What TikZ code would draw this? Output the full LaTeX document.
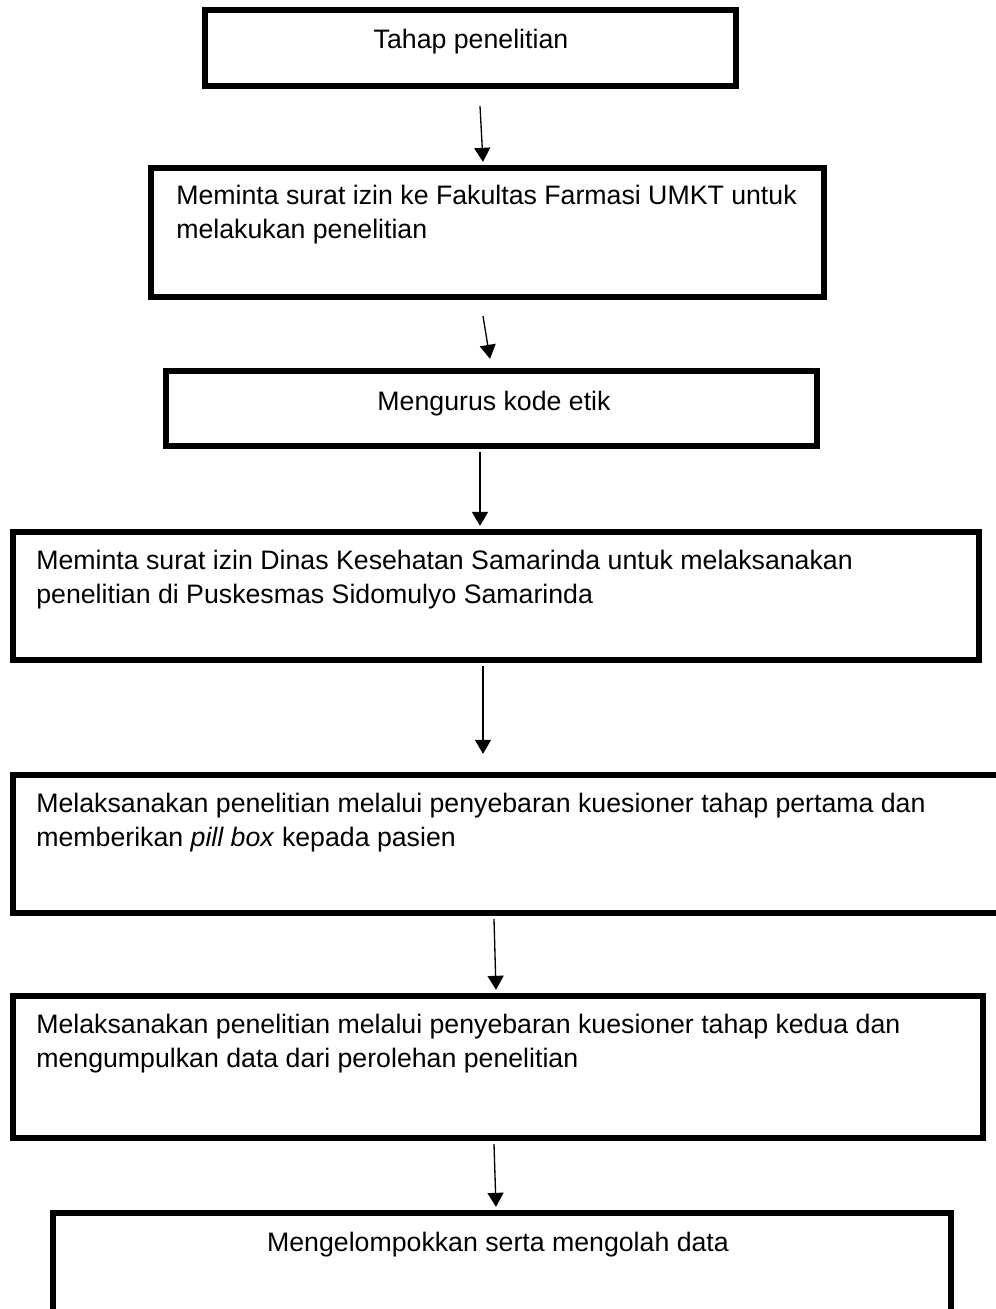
\documentclass[tikz,border=0pt]{standalone}
\usepackage{fontspec}
\setmainfont{Liberation Sans}
\usetikzlibrary{arrows.meta,calc}

\begin{document}
\begin{tikzpicture}[
    x=0.02cm, y=-0.02cm,
    stage/.style 2 args={rectangle, draw=black, line width=3.6pt, inner sep=0pt, minimum width=#1*0.02cm, minimum height=#2*0.02cm},
    flow/.style={-{Triangle[length=0.28cm, width=0.32cm]}, line width=0.75pt, draw=black},
    txt/.style={font=\fontsize{15.2}{18.8}\selectfont, inner sep=0pt, align=left}
]
\clip (0,0) rectangle (996,1309);
\fill[white] (0,0) rectangle (996,1309);

\node[stage={531}{76}] (S1) at (470.5,48) {};
\node[stage={673}{129}] (S2) at (487.5,232.5) {};
\node[stage={651}{75}] (S3) at (491.5,408.5) {};
\node[stage={966}{128}] (S4) at (496,596) {};
\node[stage={992}{138}] (S5) at (509,844) {};
\node[stage={970}{142}] (S6) at (498,1067) {};
\node[stage={898}{130}] (S7) at (502,1278) {};

% two-line labels sit on the baseline of their last line
\node[txt, anchor=base] (L1) at (471,48) {Tahap penelitian};
\node[txt, anchor=base west] (L2) at (176,238) {Meminta surat izin ke Fakultas Farmasi UMKT untuk\\melakukan penelitian};
\node[txt, anchor=base] (L3) at (494,410) {Mengurus kode etik};
\node[txt, anchor=base west] (L4) at (36,603) {Meminta surat izin Dinas Kesehatan Samarinda untuk melaksanakan\\penelitian di Puskesmas Sidomulyo Samarinda};
\node[txt, anchor=base west] (L5) at (36,846) {Melaksanakan penelitian melalui penyebaran kuesioner tahap pertama dan\\memberikan \textit{pill box} kepada pasien};
\node[txt, anchor=base west] (L6) at (36,1067) {Melaksanakan penelitian melalui penyebaran kuesioner tahap kedua dan\\mengumpulkan data dari perolehan penelitian};
\node[txt, anchor=base] (L7) at (498,1251) {Mengelompokkan serta mengolah data};

\draw[flow] ($(S1.south)+(9.5,17)$) -- ($(S2.north)+(-4.5,-3)$);
\draw[flow] ($(S2.south)+(-4.5,16)$) -- ($(S3.north)+(-1.5,-9)$);
\draw[flow] ($(S3.south)+(-11.5,3)$) -- ($(S4.north)+(-16,-3)$);
\draw[flow] ($(S4.south)+(-13,3)$) -- ($(S5.north)+(-26,-18)$);
\draw[flow] ($(S5.south)+(-15,3)$) -- ($(S6.north)+(-2,-3)$);
\draw[flow] ($(S6.south)+(-4,3)$) -- ($(S7.north)+(-6,-3)$);

\end{tikzpicture}
\end{document}
